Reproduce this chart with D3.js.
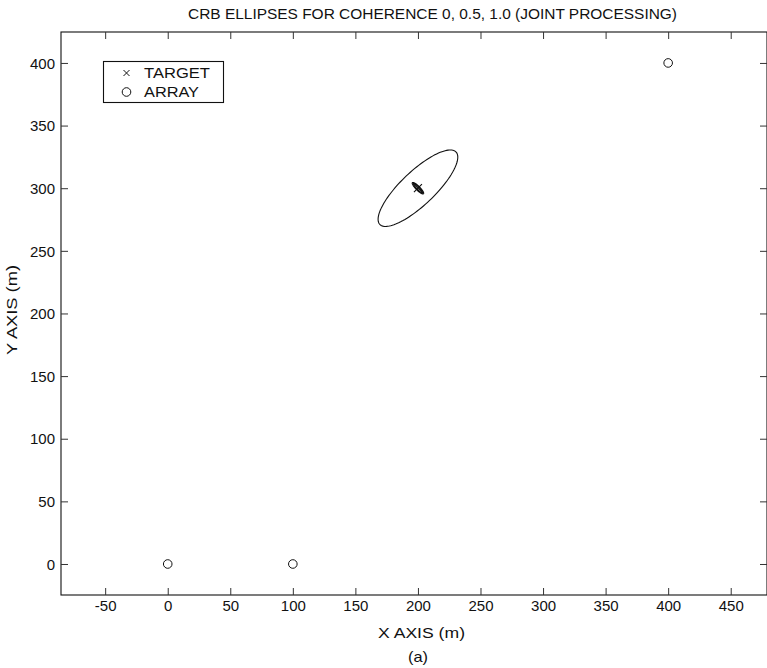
<!DOCTYPE html>
<html>
<head>
<meta charset="utf-8">
<script src="https://cdn.jsdelivr.net/npm/d3@7"></script>
<style>
  html, body { margin: 0; padding: 0; background: #fff; }
  svg { display: block; }
  text { font-family: "Liberation Sans", Arial, Helvetica, sans-serif; fill: #111; }
</style>
</head>
<body>
<svg id="chart" width="767" height="668"></svg>
<script>
// ---- data ----
const titleText = "CRB ELLIPSES FOR COHERENCE 0, 0.5, 1.0 (JOINT PROCESSING)";
const xLabel = "X AXIS (m)";
const yLabel = "Y AXIS (m)";
const caption = "(a)";
const xTicks = [-50, 0, 50, 100, 150, 200, 250, 300, 350, 400, 450];
const yTicks = [0, 50, 100, 150, 200, 250, 300, 350, 400];
const xDomain = [-85.3, 479];
const yDomain = [-24.75, 424.7];
const targetX = [200];
const targetY = [300];
const arrayX = [0, 100, 400];
const arrayY = [0, 0, 400];
// CRB ellipses (coherence 0, 0.5, 1.0): centre, semi-axes (m), orientation (deg)
const ellipseCoherence = [0, 0.5, 1.0];
const ellipseCX = [200, 200, 200];
const ellipseCY = [300, 300, 300];
const ellipseA = [42, 6.2, 5.2];
const ellipseB = [13.5, 1.5, 1.0];
const ellipseAngle = [43.5, -45, -47];
const legendLabels = ["TARGET", "ARRAY"];

// ---- layout ----
const svg = d3.select("#chart");
const L = 61, R = 767, T = 32, B = 595;
const x = d3.scaleLinear().domain(xDomain).range([L, R]);
const y = d3.scaleLinear().domain(yDomain).range([B, T]);
const FS = 15;

// frame
svg.append("rect").attr("x", L).attr("y", T).attr("width", R - L).attr("height", B - T)
  .attr("fill", "none").attr("stroke", "#111").attr("stroke-width", 1.1);

const tickLen = 7;
const fmt = d => String(d);
const gx = svg.append("g").attr("transform", `translate(0,${B})`)
  .call(d3.axisBottom(x).tickValues(xTicks).tickSizeInner(-tickLen).tickSizeOuter(0).tickFormat(fmt));
const gxt = svg.append("g").attr("transform", `translate(0,${T})`)
  .call(d3.axisTop(x).tickValues(xTicks).tickSizeInner(-tickLen).tickSizeOuter(0).tickFormat(""));
const gy = svg.append("g").attr("transform", `translate(${L},0)`)
  .call(d3.axisLeft(y).tickValues(yTicks).tickSizeInner(-tickLen).tickSizeOuter(0).tickFormat(fmt));
const gyr = svg.append("g").attr("transform", `translate(${R},0)`)
  .call(d3.axisRight(y).tickValues(yTicks).tickSizeInner(-tickLen).tickSizeOuter(0).tickFormat(""));

[gx, gxt, gy, gyr].forEach(g => {
  g.select(".domain").remove();
  g.selectAll(".tick line").attr("stroke", "#333").attr("stroke-width", 1);
  g.selectAll("text").attr("font-family", "Liberation Sans, Arial, sans-serif")
    .attr("font-size", FS).attr("fill", "#111");
});
gx.selectAll("text").attr("y", 5).attr("dy", "0.71em");
gy.selectAll("text").attr("x", -6).attr("dy", "0.35em");

// ellipses
const line = d3.line().x(d => x(d[0])).y(d => y(d[1]));
const steps = d3.range(0, 361, 3);
ellipseCoherence.forEach((c, i) => {
  const th = ellipseAngle[i] * Math.PI / 180;
  const pts = steps.map(t => {
    const r = t * Math.PI / 180;
    const ex = ellipseA[i] * Math.cos(r), ey = ellipseB[i] * Math.sin(r);
    return [ellipseCX[i] + ex * Math.cos(th) - ey * Math.sin(th),
            ellipseCY[i] + ex * Math.sin(th) + ey * Math.cos(th)];
  });
  svg.append("path").attr("d", line(pts)).attr("fill", "none")
    .attr("stroke", "#111").attr("stroke-width", i === 0 ? 1.1 : 1.3);
});

// target marker (x)
const xm = 4;
targetX.forEach((tx, i) => {
  const cx = x(tx), cy = y(targetY[i]);
  svg.append("path").attr("d", `M${cx - xm},${cy - xm}L${cx + xm},${cy + xm}M${cx - xm},${cy + xm}L${cx + xm},${cy - xm}`)
    .attr("stroke", "#111").attr("stroke-width", 1.1);
});

// array markers (o)
arrayX.forEach((ax, i) => {
  svg.append("circle").attr("cx", x(ax)).attr("cy", y(arrayY[i])).attr("r", 4.3)
    .attr("fill", "none").attr("stroke", "#111").attr("stroke-width", 1);
});

// legend
const lg = svg.append("g");
lg.append("rect").attr("x", 103.5).attr("y", 61.5).attr("width", 120).attr("height", 41)
  .attr("fill", "#fff").attr("stroke", "#111").attr("stroke-width", 1.1);
const lx = 126.5;
const ly = [73, 92];
lg.append("path").attr("d", `M${lx - 3},${ly[0] - 3}L${lx + 3},${ly[0] + 3}M${lx - 3},${ly[0] + 3}L${lx + 3},${ly[0] - 3}`)
  .attr("stroke", "#111").attr("stroke-width", 1);
lg.append("circle").attr("cx", lx).attr("cy", ly[1]).attr("r", 4.3).attr("fill", "none").attr("stroke", "#111");
const legendW = [66, 55];
legendLabels.forEach((t, i) => {
  lg.append("text").attr("x", 144).attr("y", ly[i]).attr("dy", "0.36em").attr("font-size", FS)
    .attr("textLength", legendW[i]).attr("lengthAdjust", "spacingAndGlyphs").text(t);
});

// title & labels
svg.append("text").attr("x", 188).attr("y", 19).attr("font-size", FS)
  .attr("textLength", 489).attr("lengthAdjust", "spacingAndGlyphs").text(titleText);
svg.append("text").attr("x", 378).attr("y", 638).attr("font-size", FS)
  .attr("textLength", 87).attr("lengthAdjust", "spacingAndGlyphs").text(xLabel);
svg.append("text").attr("x", 408).attr("y", 662).attr("font-size", FS)
  .attr("textLength", 20).attr("lengthAdjust", "spacingAndGlyphs").text(caption);
svg.append("text").attr("transform", `translate(17,355) rotate(-90)`)
  .attr("font-size", FS).attr("textLength", 90).attr("lengthAdjust", "spacingAndGlyphs").text(yLabel);
</script>
</body>
</html>
